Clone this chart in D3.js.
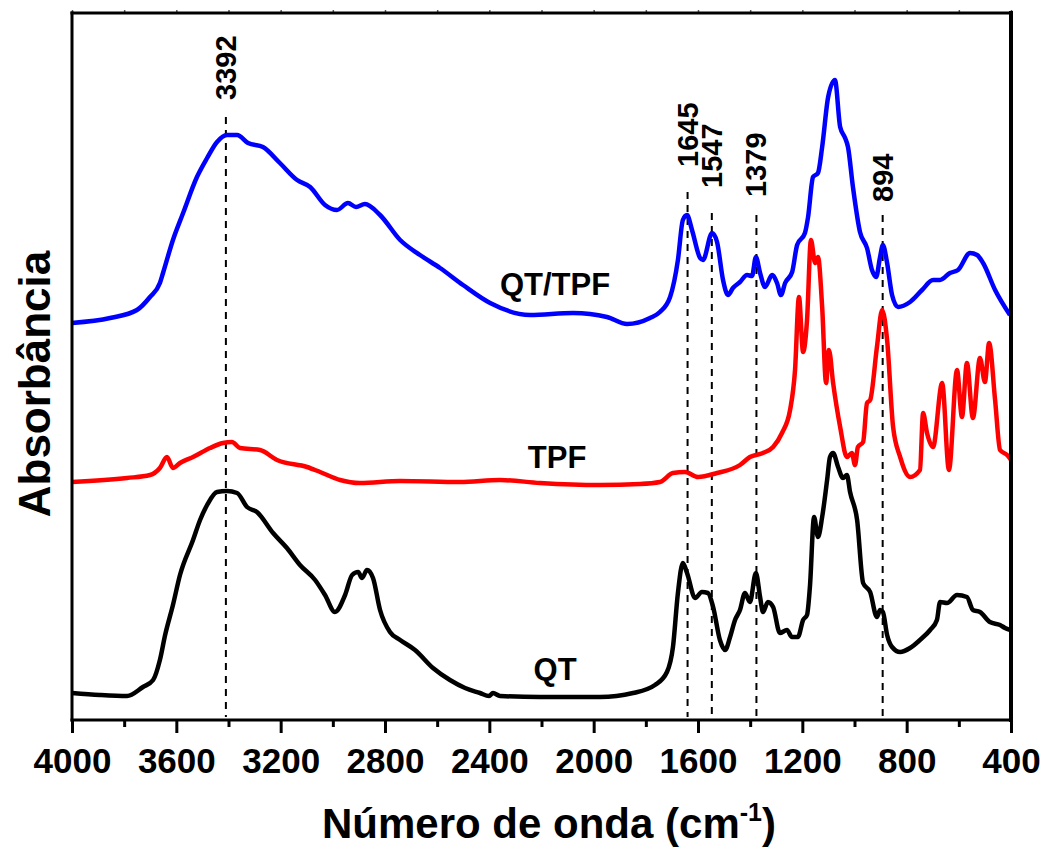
<!DOCTYPE html>
<html>
<head>
<meta charset="utf-8">
<script src="https://cdn.jsdelivr.net/npm/d3@7/dist/d3.min.js"></script>
<style>
  body { margin: 0; background: #fff; }
  svg text { font-family: "Liberation Sans", Arial, sans-serif; font-weight: bold; fill: #000; }
</style>
</head>
<body>
<div id="chart"></div>
<script>
// spectra: [wavenumber (cm-1), absorbance (a.u.)]
const qt = [
  [4000, 2.7], [3893, 2.5], [3789, 2.4], [3728, 3.3], [3689, 4.0], [3663, 6.0], [3643, 8.5],
  [3613, 11.5], [3586, 14.5], [3536, 18.0], [3509, 20.0], [3482, 21.5], [3444, 22.8], [3406, 22.9],
  [3367, 22.7], [3329, 21.3], [3291, 20.8], [3229, 18.7], [3176, 17.2], [3126, 15.5], [3068, 14.0],
  [3030, 12.5], [2992, 10.8], [2953, 12.5], [2926, 14.5], [2903, 14.8], [2888, 14.2], [2869, 15.0],
  [2846, 14.2], [2819, 11.0], [2781, 8.8], [2742, 8.0], [2685, 7.0], [2616, 5.2], [2551, 4.0],
  [2493, 3.2], [2436, 2.7], [2401, 2.4], [2386, 2.7], [2359, 2.4], [2206, 2.3], [1976, 2.3],
  [1849, 2.7], [1765, 3.5], [1719, 4.8], [1696, 7.3], [1677, 12.7], [1658, 15.7], [1642, 14.7],
  [1611, 12.2], [1585, 12.8], [1562, 12.7], [1542, 11.3], [1516, 8.0], [1496, 7.0], [1477, 8.3],
  [1458, 10.0], [1439, 11.0], [1420, 12.7], [1401, 11.8], [1378, 14.7], [1362, 12.3], [1351, 10.8],
  [1332, 11.8], [1312, 11.3], [1286, 8.7], [1259, 9.0], [1240, 8.3], [1217, 8.3], [1197, 10.0],
  [1182, 10.5], [1171, 13.3], [1155, 20.3], [1140, 18.3], [1124, 20.3], [1105, 24.0], [1094, 26.3],
  [1082, 26.7], [1063, 25.3], [1044, 24.2], [1029, 24.5], [1017, 22.8], [990, 20.0], [967, 13.7],
  [940, 12.8], [914, 10.3], [902, 11.0], [891, 10.8], [875, 8.5], [856, 7.3], [825, 6.8],
  [787, 7.2], [749, 8.0], [710, 9.0], [684, 10.0], [672, 11.8], [645, 11.7], [607, 12.5],
  [569, 12.3], [546, 11.0], [519, 10.8], [481, 9.8], [442, 9.5], [423, 9.2], [404, 9.0]
]

const tpf = [
  [4000, 23.8], [3789, 24.2], [3701, 24.5], [3663, 25.2], [3636, 26.3], [3613, 25.2], [3586, 25.7],
  [3536, 26.3], [3471, 27.2], [3421, 27.7], [3387, 27.8], [3356, 27.2], [3279, 27.0], [3214, 26.0],
  [3099, 25.3], [3049, 24.8], [2972, 24.0], [2896, 23.7], [2742, 23.9], [2512, 23.8], [2359, 24.0],
  [2206, 23.7], [1976, 23.5], [1822, 23.6], [1746, 23.8], [1696, 24.7], [1650, 24.8], [1600, 24.3],
  [1527, 24.7], [1439, 25.5], [1401, 26.3], [1351, 26.7], [1312, 27.3], [1278, 28.7], [1247, 31.0],
  [1228, 35.0], [1213, 42.3], [1197, 36.8], [1182, 40.0], [1167, 48.0], [1151, 45.7], [1140, 46.3],
  [1124, 41.3], [1109, 33.7], [1098, 37.0], [1082, 33.7], [1055, 29.3], [1029, 26.3], [1010, 26.7],
  [998, 25.5], [987, 27.3], [967, 27.8], [952, 31.7], [940, 32.0], [914, 37.3], [894, 41.0],
  [875, 38.0], [852, 29.3], [825, 26.3], [787, 24.3], [749, 25.0], [737, 30.7], [722, 28.7],
  [699, 27.3], [664, 33.7], [638, 25.0], [607, 35.0], [588, 30.3], [569, 35.7], [546, 30.2],
  [519, 36.2], [500, 33.8], [484, 37.7], [461, 32.0], [442, 27.0], [415, 26.5], [400, 26.0]
]

const qtTpf = [
  [4000, 39.7], [3854, 40.2], [3751, 41.0], [3701, 42.3], [3663, 43.7], [3651, 44.7], [3613, 48.0],
  [3574, 50.7], [3521, 54.3], [3482, 56.2], [3444, 57.8], [3406, 58.5], [3367, 58.5], [3325, 57.7],
  [3268, 57.3], [3203, 55.7], [3137, 54.0], [3087, 53.3], [3030, 51.5], [2984, 51.0], [2942, 51.7],
  [2911, 51.3], [2877, 51.6], [2819, 50.5], [2742, 48.0], [2666, 46.5], [2589, 45.2], [2501, 43.5],
  [2397, 41.7], [2244, 40.5], [2079, 40.7], [1949, 40.3], [1872, 39.6], [1784, 40.2], [1746, 40.8],
  [1707, 42.3], [1677, 46.0], [1658, 50.0], [1642, 50.5], [1623, 49.0], [1592, 46.2], [1581, 46.0],
  [1546, 48.7], [1527, 47.8], [1504, 44.0], [1485, 42.5], [1466, 43.2], [1439, 43.8], [1412, 44.5],
  [1393, 44.4], [1378, 46.3], [1362, 44.7], [1343, 43.3], [1316, 44.5], [1297, 43.7], [1282, 42.5],
  [1266, 43.7], [1239, 44.8], [1220, 47.5], [1190, 48.7], [1178, 50.3], [1159, 54.3], [1140, 54.7],
  [1124, 57.3], [1101, 62.3], [1075, 64.0], [1055, 59.3], [1036, 58.2], [1025, 57.3], [1006, 53.3],
  [979, 48.8], [952, 47.2], [933, 45.0], [917, 44.3], [902, 46.3], [891, 47.5], [875, 45.7],
  [856, 42.5], [833, 41.3], [787, 41.8], [741, 43.0], [699, 44.0], [672, 44.0], [634, 44.7],
  [603, 45.0], [557, 46.7], [530, 46.5], [507, 45.7], [461, 43.0], [404, 40.5]
]

const seriesNames = ['QT', 'TPF', 'QT/TPF']
const seriesColors = ['#000000', '#ff0000', '#0000ff']

// marked bands: label, where the dashed line sits, top of the dashed line (a.u.)
const bandLabels = ['3392', '1645', '1547', '1379', '894']
const bandPos = [3410, 1640, 1547, 1376, 892]
const bandTop = [60.3, 52.8, 50.7, 50.5, 50.5]

const xTicks = [4000, 3600, 3200, 2800, 2400, 2000, 1600, 1200, 800, 400]
const xMinorTicks = [3800, 3400, 3000, 2600, 2200, 1800, 1400, 1000, 600]

// layout
const W = 1046, H = 858
const plot = { left: 72, right: 1011, top: 13, bottom: 720 }
const nameAt = [[2148, 4.0], [2140, 25.2], [2148, 42.5]] // where the series names go
const bandGap = [17, 25, 25, 18, 13] // px between label and dashed line

const svg = d3.select('#chart').append('svg')
  .attr('width', W)
  .attr('height', H)

const x = d3.scaleLinear().domain([4000, 400]).range([plot.left, plot.right])
const y = d3.scaleLinear().domain([0, 70.7]).range([plot.bottom, plot.top])

//dashed band markers
bandLabels.forEach((lab, i) => {
  const bx = x(bandPos[i])
  const top = y(bandTop[i])
  svg.append('line')
    .attr('x1', bx).attr('x2', bx)
    .attr('y1', top).attr('y2', plot.bottom - 3)
    .attr('stroke', '#000')
    .attr('stroke-width', 2)
    .attr('stroke-dasharray', '7,6')
  svg.append('text')
    .attr('transform', `translate(${bx + 10},${top - bandGap[i]}) rotate(-90)`)
    .attr('font-size', 29)
    .text(lab)
})

//spectra
const line = d3.line()
  .x(d => x(d[0]))
  .y(d => y(d[1]))
  .curve(d3.curveMonotoneX)

;[qt, tpf, qtTpf].forEach((s, i) => {
  svg.append('path')
    .datum(s)
    .attr('fill', 'none')
    .attr('stroke', seriesColors[i])
    .attr('stroke-width', 4.5)
    .attr('stroke-linejoin', 'round')
    .attr('d', line)

  svg.append('text')
    .attr('x', x(nameAt[i][0]))
    .attr('y', y(nameAt[i][1]))
    .attr('text-anchor', 'middle')
    .attr('font-size', 31)
    .text(seriesNames[i])
})

//axes
const bottomAxis = svg.append('g')
  .attr('transform', `translate(0,${plot.bottom})`)
  .call(d3.axisBottom(x).tickValues(xTicks).tickSize(13).tickPadding(15).tickFormat(d3.format('d')))
bottomAxis.select('.domain').remove()
bottomAxis.selectAll('line').attr('stroke-width', 3)
bottomAxis.selectAll('text').attr('font-size', 35).attr('font-family', null)

const minorAxis = svg.append('g')
  .attr('transform', `translate(0,${plot.bottom})`)
  .call(d3.axisBottom(x).tickValues(xMinorTicks).tickSize(7).tickFormat(''))
minorAxis.select('.domain').remove()
minorAxis.selectAll('line').attr('stroke-width', 3)

const topAxis = svg.append('g')
  .attr('transform', `translate(0,${plot.top})`)
  .call(d3.axisTop(x).tickValues(xTicks.concat(xMinorTicks)).tickSize(3).tickFormat(''))
topAxis.select('.domain').remove()
topAxis.selectAll('line').attr('stroke-width', 1.5).attr('stroke', '#555')

//frame
const frame = [
  [plot.left, plot.top, plot.right, plot.top, 3],
  [plot.left, plot.top, plot.left, plot.bottom, 3],
  [plot.left, plot.bottom, plot.right, plot.bottom, 3],
  [plot.right, plot.top, plot.right, plot.bottom, 4]
]
svg.selectAll('.frame')
  .data(frame)
  .enter().append('line')
  .attr('class', 'frame')
  .attr('x1', d => d[0]).attr('y1', d => d[1])
  .attr('x2', d => d[2]).attr('y2', d => d[3])
  .attr('stroke', '#000')
  .attr('stroke-width', d => d[4])
  .attr('stroke-linecap', 'square')

//axis titles
const xTitle = svg.append('text')
  .attr('x', 549)
  .attr('y', 838)
  .attr('text-anchor', 'middle')
  .attr('font-size', 42)
xTitle.append('tspan').text('Número de onda (cm')
xTitle.append('tspan').attr('font-size', 25).attr('dy', -17).text('-1')
xTitle.append('tspan').attr('dy', 17).text(')')

svg.append('text')
  .attr('transform', `translate(50,384) rotate(-90)`)
  .attr('text-anchor', 'middle')
  .attr('font-size', 44)
  .text('Absorbância')
</script>
</body>
</html>
